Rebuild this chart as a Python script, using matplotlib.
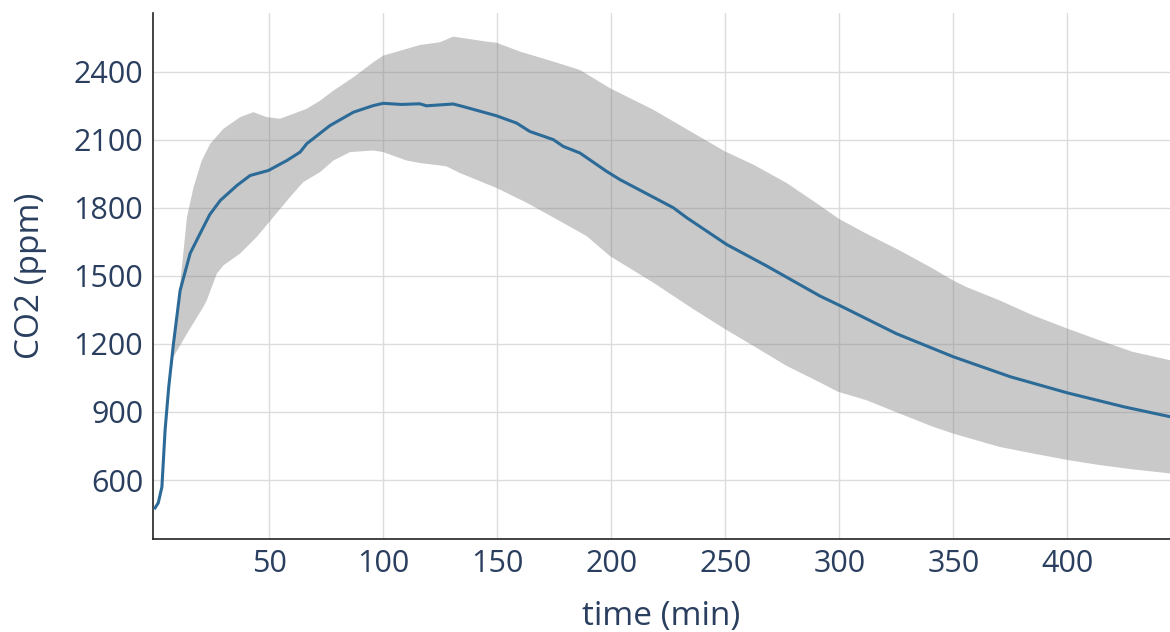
import numpy as np
import matplotlib

matplotlib.use("Agg")
import matplotlib.pyplot as plt

plt.rcParams["font.family"] = ["Open Sans", "DejaVu Sans"]

# mean CO2 curve (min, ppm)
t_mean = [0, 1.4, 3, 4.4, 6, 8.1, 11, 15.4, 19.8, 24, 28.6, 35.9, 41.7, 49.7,
          57.8, 63.6, 66.5, 76.7, 87, 95.7, 100, 108, 116, 119, 130.7, 135,
          149.7, 158.5, 164.3, 174.6, 179, 186.3, 198, 203.8, 227.2, 233.1,
          250.6, 268.2, 291.5, 300, 325, 350, 375, 400, 425, 445]
co2_mean = [477, 499, 569, 820, 1010, 1203, 1436, 1599, 1687, 1770, 1832, 1898,
            1942, 1964, 2008, 2045, 2082, 2162, 2221, 2250, 2260, 2255, 2258,
            2249, 2257, 2246, 2205, 2173, 2136, 2100, 2070, 2041, 1960, 1924,
            1800, 1756, 1638, 1543, 1411, 1370, 1245, 1143, 1055, 984, 922, 879]

# upper edge of the spread band
t_upper = [7, 10.3, 14, 16.9, 20.5, 24.2, 30, 37.3, 43.1, 49, 54.8, 60.7, 66.5,
           72.4, 78.2, 87, 95.7, 100, 110.3, 116.1, 124.9, 130.7, 145.3, 149.7,
           160, 174.6, 186.3, 199.4, 218.4, 236, 249.9, 262.3, 276.9, 290, 300,
           311.8, 326.4, 341, 349.8, 355.6, 370.2, 384.8, 400.1, 414, 428.6, 445]
co2_upper = [1100, 1392, 1759, 1891, 2008, 2082, 2148, 2199, 2221, 2199, 2192,
             2214, 2236, 2272, 2316, 2375, 2441, 2470, 2500, 2517, 2529, 2554,
             2532, 2527, 2488, 2444, 2407, 2327, 2232, 2129, 2048, 1990, 1909,
             1820, 1750, 1686, 1612, 1532, 1480, 1451, 1392, 1326, 1267, 1216,
             1165, 1128]

# lower edge of the spread band
t_lower = [7.5, 8.1, 14, 21.2, 22.7, 27.1, 30, 37.3, 44.6, 51.9, 59.2, 65, 72.4,
           78.2, 85.5, 95.7, 100, 110.3, 116.1, 124.9, 127.8, 133.6, 149.7,
           162.9, 177.5, 189.2, 199.4, 218.4, 236, 249.9, 262.3, 276.9, 291.5,
           299.4, 311.8, 326.4, 341, 349.8, 370.2, 384.8, 400.1, 414, 428.6, 445]
co2_lower = [1100, 1143, 1245, 1363, 1392, 1510, 1546, 1598, 1671, 1759, 1847,
             1913, 1957, 2008, 2045, 2052, 2045, 2008, 1997, 1986, 1982, 1953,
             1887, 1822, 1741, 1675, 1587, 1470, 1353, 1265, 1191, 1103, 1030,
             989, 952, 893, 835, 805, 746, 717, 688, 666, 647, 629]

TEXT = "#2a3f5f"

fig = plt.figure(figsize=(11.7, 6.32), dpi=100)
ax = fig.add_axes([153 / 1170, 93 / 632, 1 - 153 / 1170, 526 / 632])

band_x = np.concatenate([t_upper, t_lower[::-1]])
band_y = np.concatenate([co2_upper, co2_lower[::-1]])
ax.fill(band_x, band_y, color="#808080", alpha=0.42, lw=0, zorder=2)
ax.plot(t_mean, co2_mean, color="#2c6a97", lw=2.2, zorder=3)

ax.set_xlim(-0.9, 445)
ax.set_ylim(340, 2658)
ax.set_xticks(range(50, 401, 50))
ax.set_yticks(range(600, 2401, 300))
ax.grid(color="#dcdcdc", lw=1.0, zorder=0)
ax.set_axisbelow(True)

for s in ("top", "right"):
    ax.spines[s].set_visible(False)
for s in ("left", "bottom"):
    ax.spines[s].set_color("#222222")
    ax.spines[s].set_linewidth(1.2)

ax.tick_params(length=0, labelsize=22, labelcolor=TEXT)
ax.tick_params(axis="x", pad=7)
ax.tick_params(axis="y", pad=7)
ax.set_xlabel("time (min)", fontsize=24, color=TEXT, labelpad=15)
ax.set_ylabel("CO2 (ppm)", fontsize=24, color=TEXT, labelpad=19)

fig.savefig("out.png", dpi=100)
